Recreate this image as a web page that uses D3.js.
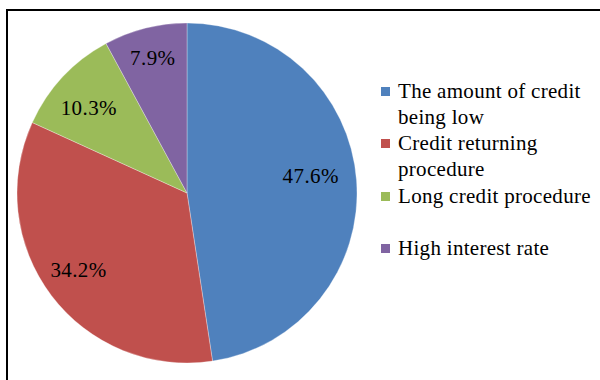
<!DOCTYPE html>
<html>
<head>
<meta charset="utf-8">
<script src="https://cdn.jsdelivr.net/npm/d3@7"></script>
<style>
  html, body { margin: 0; padding: 0; background: #fff; }
  svg { display: block; }
</style>
</head>
<body>
<svg id="chart" width="600" height="380"></svg>
<script>
// Reasons cited for credit problems (share of respondents, %)
const categories = [
  "The amount of credit being low",
  "Credit returning procedure",
  "Long credit procedure",
  "High interest rate"
];
const values = [47.6, 34.2, 10.3, 7.9];
const colors = ["#4F81BD", "#C0504D", "#9BBB59", "#8064A2"];
// Legend entries wrapped onto lines
const legendLines = [
  ["The amount of credit", "being low"],
  ["Credit returning", "procedure"],
  ["Long credit procedure"],
  ["High interest rate"]
];

const FONT = "Liberation Serif";

const svg = d3.select("#chart");

// Chart frame
svg.append("rect")
  .attr("x", 7).attr("y", 10)
  .attr("width", 600).attr("height", 400)
  .attr("fill", "none")
  .attr("stroke", "#000")
  .attr("stroke-width", 2);

const cx = 187, cy = 193, r = 170;
const g = svg.append("g").attr("transform", `translate(${cx},${cy})`);

const pie = d3.pie().sort(null).value(d => d);
const arcs = pie(values);
const arc = d3.arc().innerRadius(0).outerRadius(r);

g.selectAll("path.slice")
  .data(arcs)
  .join("path")
  .attr("class", "slice")
  .attr("d", arc)
  .attr("fill", (d, i) => colors[i])
  .attr("stroke", "rgba(255,255,255,0.5)")
  .attr("stroke-width", 0.6);

// Percentage labels placed along each slice's bisector
const labelRadius = [0.73, 0.80, 0.79, 0.82];
const labelDy = [-1, 2, 14, 7];
const labelPos = (d, i) =>
  d3.arc().innerRadius(r * labelRadius[i]).outerRadius(r * labelRadius[i]).centroid(d);
g.selectAll("text.pct")
  .data(arcs)
  .join("text")
  .attr("class", "pct")
  .attr("text-anchor", "middle")
  .attr("font-family", FONT)
  .attr("font-size", 21)
  .attr("letter-spacing", 0.4)
  .attr("fill", "#000")
  .attr("x", (d, i) => labelPos(d, i)[0])
  .attr("y", (d, i) => labelPos(d, i)[1] + labelDy[i])
  .text(d => d.data.toFixed(1) + "%");

// Legend
const legendTop = [98, 150, 203, 255];
const lineH = 25.5;
const legend = svg.append("g");
categories.forEach((c, i) => {
  legend.append("rect")
    .attr("x", 381).attr("y", legendTop[i] - 11)
    .attr("width", 9).attr("height", 9)
    .attr("fill", colors[i]);
  const t = legend.append("text")
    .attr("x", 398).attr("y", legendTop[i])
    .attr("font-family", FONT)
    .attr("font-size", 21)
    .attr("fill", "#000")
    .attr("letter-spacing", 0.3);
  legendLines[i].forEach((ln, j) => {
    t.append("tspan").attr("x", 398).attr("y", legendTop[i] + j * lineH).text(ln);
  });
});
</script>
</body>
</html>
